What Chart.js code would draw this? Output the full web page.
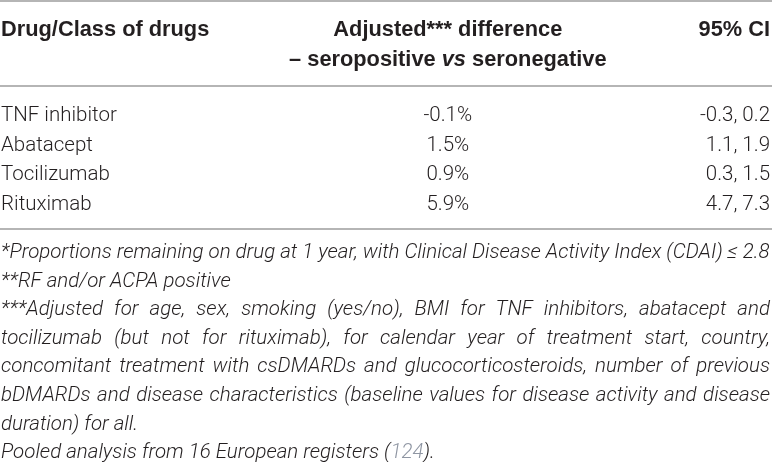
<!DOCTYPE html>
<html>
<head>
<meta charset="utf-8">
<script src="https://cdn.jsdelivr.net/npm/chart.js@4/dist/chart.umd.min.js"></script>
<style>
  html, body { margin: 0; padding: 0; background: #fff; }
  #wrap { width: 772px; height: 462px; position: relative; }
</style>
</head>
<body>
<div id="wrap"><canvas id="seroDiffTable"></canvas></div>
<script>
// table content
const drugs = ['TNF inhibitor', 'Abatacept', 'Tocilizumab', 'Rituximab'];
const adjustedDiff = [-0.1, 1.5, 0.9, 5.9];
const ciLow = [-0.3, 1.1, 0.3, 4.7];
const ciHigh = [0.2, 1.9, 1.5, 7.3];

// header lines: [text, italic]
const headDrug = [[['Drug/Class of drugs', false]]];
const headDiff = [
    [['Adjusted*** difference', false]],
    [['– seropositive ', false], ['vs', true], [' seronegative', false]],
];
const headCI = [[['95% CI', false]]];

// footnote lines, as broken in the original; justify = stretch to full width
const footnoteLines = [
    { parts: [['*Proportions remaining on drug at 1 year, with Clinical Disease Activity Index (CDAI) ≤ 2.8']], justify: false },
    { parts: [['**RF and/or ACPA positive']], justify: false },
    { parts: [['***Adjusted for age, sex, smoking (yes/no), BMI for TNF inhibitors, abatacept and']], justify: true },
    { parts: [['tocilizumab (but not for rituximab), for calendar year of treatment start, country,']], justify: true },
    { parts: [['concomitant treatment with csDMARDs and glucocorticosteroids, number of previous']], justify: true },
    { parts: [['bDMARDs and disease characteristics (baseline values for disease activity and disease']], justify: true },
    { parts: [['duration) for all.']], justify: false },
    { parts: [['Pooled analysis from 16 European registers ('], ['124', 'link'], [').']], justify: false },
];

const INK = '#231f20';
const RULE = '#9c9c9c';
const LINK = '#8f96a3';
const bodyFont = (italic) => (italic ? 'italic ' : '') + '300 20.5px Roboto, "Liberation Sans", sans-serif';
const boldFont = (italic) => (italic ? 'italic ' : '') + 'bold 21.8px "Liberation Sans", Arial, sans-serif';

// column anchors as fractions of the x scale (0 = left edge, 1 = right edge)
const colAnchor = [0.0, 0.581, 1.0];

function drawParts(ctx, parts, x, y, align, fontFn) {
    let total = 0;
    parts.forEach(p => { ctx.font = fontFn(p[1] === true); total += ctx.measureText(p[0]).width; });
    let cx = align === 'left' ? x : align === 'right' ? x - total : x - total / 2;
    ctx.textAlign = 'left';
    parts.forEach(p => {
        ctx.font = fontFn(p[1] === true);
        ctx.fillStyle = p[1] === 'link' ? LINK : INK;
        ctx.fillText(p[0], cx, y);
        cx += ctx.measureText(p[0]).width;
    });
}

function hRule(ctx, y, x0, x1) {
    ctx.save();
    ctx.strokeStyle = RULE;
    ctx.lineWidth = 1.5;
    ctx.beginPath();
    ctx.moveTo(x0, y);
    ctx.lineTo(x1, y);
    ctx.stroke();
    ctx.restore();
}

const tablePlugin = {
    id: 'tableText',
    afterDraw(chart) {
        const ctx = chart.ctx;
        const xs = chart.scales.x;
        const ys = chart.scales.y;
        const area = chart.chartArea;
        const left = 0, right = chart.width;
        const colX = colAnchor.map(f => xs.getPixelForValue(f));
        ctx.save();
        ctx.textBaseline = 'alphabetic';

        // rules
        hRule(ctx, 1, left, right);
        hRule(ctx, area.top - 12.5, left, right);
        hRule(ctx, area.bottom + 11.5, left, right);

        // header
        const headBase = [36, 66];
        headDrug.forEach((ln, i) => drawParts(ctx, ln, colX[0], headBase[i], 'left', boldFont));
        headDiff.forEach((ln, i) => drawParts(ctx, ln, colX[1], headBase[i], 'center', boldFont));
        headCI.forEach((ln, i) => drawParts(ctx, ln, colX[2], headBase[i], 'right', boldFont));

        // body rows
        drugs.forEach((d, i) => {
            const y = ys.getPixelForValue(i) + 7.4;
            drawParts(ctx, [[d, false]], colX[0], y, 'left', bodyFont);
            drawParts(ctx, [[adjustedDiff[i].toFixed(1) + '%', false]], colX[1], y, 'center', bodyFont);
            drawParts(ctx, [[ciLow[i].toFixed(1) + ', ' + ciHigh[i].toFixed(1), false]], colX[2], y, 'right', bodyFont);
        });

        // footnotes: size fitted so the first line spans the table width
        const width = colX[2] - colX[0];
        ctx.font = 'italic 300 20px Roboto, "Liberation Sans", sans-serif';
        const w20 = ctx.measureText(footnoteLines[0].parts[0][0]).width;
        const fs = Math.min(21, 20 * width / w20);
        const noteFont = () => 'italic 300 ' + fs.toFixed(2) + 'px Roboto, "Liberation Sans", sans-serif';
        const firstBase = area.bottom + 40.5;
        const lead = 28.6;
        footnoteLines.forEach((ln, i) => {
            const y = firstBase + i * lead;
            if (ln.justify) {
                ctx.font = noteFont();
                ctx.fillStyle = INK;
                const words = ln.parts[0][0].split(' ');
                const sum = words.reduce((s, w) => s + ctx.measureText(w).width, 0);
                const gap = (width - sum) / (words.length - 1);
                let cx = colX[0];
                words.forEach(w => { ctx.fillText(w, cx, y); cx += ctx.measureText(w).width + gap; });
            } else {
                drawParts(ctx, ln.parts.map(p => [p[0], p[1] === 'link' ? 'link' : false]), colX[0], y, 'left', noteFont);
            }
        });
        ctx.restore();
    }
};

new Chart(document.getElementById('seroDiffTable'), {
    type: 'bar',
    data: { labels: drugs, datasets: [] },
    options: {
        responsive: true,
        maintainAspectRatio: false,
        animation: false,
        layout: { padding: { left: 1, right: 2, top: 98.5, bottom: 244.5 } },
        plugins: { legend: { display: false }, tooltip: { enabled: false } },
        scales: {
            x: { type: 'linear', min: 0, max: 1, offset: false, display: false },
            y: { type: 'category', offset: true, display: false },
        },
    },
    plugins: [tablePlugin],
});
</script>
</body>
</html>
